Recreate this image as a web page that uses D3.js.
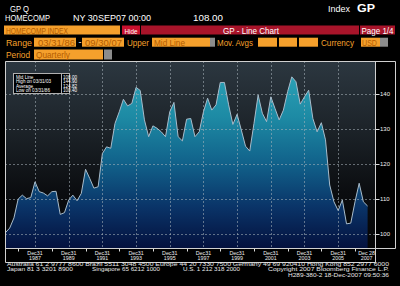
<!DOCTYPE html>
<html>
<head>
<meta charset="utf-8">
<script src="https://cdn.jsdelivr.net/npm/d3@7"></script>
<style>
  html, body { margin: 0; padding: 0; background: #000; }
  svg { display: block; }
  text { font-family: "Liberation Sans", Arial, sans-serif; }
</style>
</head>
<body>
<div id="chart"></div>
<script>
// Chart size
const width = 400;
const height = 286;

// Quarterly index values, 03/31/86 .. 09/30/07
const startDate = new Date(1986, 2, 31);
const endDate = new Date(2007, 8, 30);
const values = [
  100.4, 101.7, 104.6, 110.0, 111.1, 110.1, 110.4, 114.9, 112.1, 111.7,
  110.9, 112.1, 112.2, 105.6, 106.1, 109.7, 111.1, 109.5, 111.6, 118.5,
  115.9, 113.1, 113.5, 123.0, 124.9, 124.5, 131.6, 134.9, 138.5, 136.6,
  137.3, 141.9, 141.0, 132.6, 127.8, 130.9, 130.2, 129.2, 127.8, 134.9,
  137.6, 127.8, 126.6, 132.8, 133.0, 127.8, 129.2, 134.9, 138.8, 135.4,
  136.9, 143.3, 143.3, 136.9, 131.3, 134.2, 129.7, 125.1, 123.7, 131.6,
  139.7, 134.5, 132.1, 139.2, 135.9, 132.6, 135.4, 140.7, 144.9, 143.5,
  137.1, 139.2, 141.1, 133.0, 129.2, 131.8, 126.9, 114.0, 109.2, 106.7,
  109.7, 102.9, 103.1, 109.2, 114.5, 109.2, 108.0
];

// Axis labels
const yTicks = [100, 110, 120, 130, 140];
const labelYears = [1987, 1989, 1991, 1993, 1995, 1997, 1999, 2001, 2003, 2005];
const minorYears = [1986, 1988, 1990, 1992, 1994, 1996, 1998, 2000, 2002, 2004, 2006];

// Legend rows
const legendLabels = ["Mid Line", "High on 03/31/03", "Average", "Low on 03/31/86"];
const legendValues = ["108.00", "144.90", "124.82", "100.40"];

// Footer lines
const footer1 = "Australia 61 2 9777 8600 Brazil 5511 3048 4500 Europe 44 20 7330 7500 Germany 49 69 920410 Hong Kong 852 2977 6000";

// Build quarter-end dates for the series
const dates = values.map((v, i) => d3.timeDay.offset(d3.timeMonth.offset(new Date(1986, 3, 1), i * 3), -1));
const data = values.map((v, i) => ({ date: dates[i], value: v }));

const svg = d3.select("#chart").append("svg")
    .attr("width", width)
    .attr("height", height);

const defs = svg.append("defs");

// Plot box
const plot = { left: 5, right: 375, top: 61, bottom: 248 };

const x = d3.scaleTime()
    .domain([startDate, endDate])
    .range([5.5, 367.6]);

const y = d3.scaleLinear()
    .domain([100, 140])
    .range([234, 94]);

// ---------- Header ----------
const amber = "#f5a02c";
const boxText = "#b35c00";

function txt(str, tx, ty, opts) {
    const t = svg.append("text")
        .attr("x", tx).attr("y", ty)
        .attr("font-size", opts.size || 9)
        .attr("fill", opts.fill || "#fff")
        .text(str);
    if (opts.bold) t.attr("font-weight", "bold");
    if (opts.len) t.attr("textLength", opts.len).attr("lengthAdjust", "spacingAndGlyphs");
    if (opts.anchor) t.attr("text-anchor", opts.anchor);
    return t;
}

function box(bx, by, bw, bh, fill) {
    svg.append("rect").attr("x", bx).attr("y", by).attr("width", bw).attr("height", bh).attr("fill", fill);
}

txt("GP Q", 10, 11.5, { size: 9, len: 19 });
txt("HOMECOMP", 5, 21, { size: 9, len: 45 });
txt("NY 30SEP07 00:00", 73, 21, { size: 9, len: 78 });
txt("108.00", 193, 21, { size: 9, len: 30 });
txt("Index", 328, 12, { size: 9, len: 22 });
txt("GP", 357, 12, { size: 10, bold: true, len: 18 });

// row 3
box(4, 25.5, 116, 9, amber);
txt("HOMECOMP INDEX", 6, 33.5, { size: 8.5, fill: boxText, len: 62 });
box(122, 25.5, 18, 9, "#c8102e");
txt("Hide", 124.5, 33.5, { size: 8, len: 13 });
box(141, 25.5, 218, 9, "#a8142a");
txt("GP - Line Chart", 223, 33.5, { size: 8.5, len: 56 });
box(360, 25.5, 35, 9, "#a8142a");
txt("Page 1/4", 361.5, 33.5, { size: 8.5, len: 32 });

// row 4
txt("Range", 6, 45.5, { size: 9, fill: amber, len: 26 });
box(34, 37.7, 42, 9, amber);
txt("03/31/86", 38, 45.5, { size: 8.5, fill: boxText, len: 37 });
txt("-", 78.5, 45, { size: 9, fill: "#fff" });
box(82, 37.7, 42, 9, amber);
txt("09/30/07", 85, 45.5, { size: 8.5, fill: boxText, len: 37 });
txt("Upper", 127, 45.5, { size: 9, fill: amber, len: 22 });
box(152, 37.7, 58, 9, amber);
box(210, 37.7, 5, 9, "#8c8c8c");
txt("Mid Line", 154, 45.5, { size: 8.5, fill: boxText, len: 31 });
txt("Mov. Avgs", 217, 45.5, { size: 9, fill: amber, len: 36 });
box(258, 37.7, 19, 9, amber);
box(279, 37.7, 18, 9, amber);
box(299, 37.7, 19, 9, amber);
txt("Currency", 321, 45.5, { size: 9, fill: amber, len: 33 });
box(361, 37.7, 19, 9, amber);
box(380, 37.7, 8, 9, "#8c8c8c");
txt("USD", 362, 45.5, { size: 8.5, fill: boxText, len: 15 });

// row 5
txt("Period", 6, 58, { size: 9, fill: amber, len: 24 });
box(34, 49.5, 69, 10, amber);
box(104, 49.5, 8, 10, "#8c8c8c");
txt("Quarterly", 36, 57.8, { size: 8.5, fill: boxText, len: 34 });

// ---------- Plot ----------
const bg = defs.append("linearGradient").attr("id", "bg")
    .attr("gradientUnits", "userSpaceOnUse")
    .attr("x1", 0).attr("y1", plot.top).attr("x2", 0).attr("y2", plot.bottom);
bg.append("stop").attr("offset", "0%").attr("stop-color", "#2c3740");
bg.append("stop").attr("offset", "35%").attr("stop-color", "#1d242a");
bg.append("stop").attr("offset", "70%").attr("stop-color", "#0b0d10");
bg.append("stop").attr("offset", "100%").attr("stop-color", "#050505");

const fillGrad = defs.append("linearGradient").attr("id", "areaFill")
    .attr("gradientUnits", "userSpaceOnUse")
    .attr("x1", 0).attr("y1", plot.top).attr("x2", 0).attr("y2", plot.bottom);
fillGrad.append("stop").attr("offset", "0%").attr("stop-color", "#2fa8bc");
fillGrad.append("stop").attr("offset", "30%").attr("stop-color", "#1d8aa4");
fillGrad.append("stop").attr("offset", "55%").attr("stop-color", "#11618a");
fillGrad.append("stop").attr("offset", "78%").attr("stop-color", "#0a3468");
fillGrad.append("stop").attr("offset", "100%").attr("stop-color", "#04113e");

svg.append("rect")
    .attr("x", plot.left).attr("y", plot.top)
    .attr("width", plot.right - plot.left).attr("height", plot.bottom - plot.top)
    .attr("fill", "url(#bg)");

const area = d3.area()
    .x(d => x(d.date))
    .y0(plot.bottom)
    .y1(d => y(d.value));

svg.append("path")
    .datum(data)
    .attr("d", area)
    .attr("fill", "url(#areaFill)");

// Grid lines
const gridColor = "#aab4bc";
svg.append("g")
    .selectAll("line")
    .data(yTicks)
    .join("line")
    .attr("x1", plot.left).attr("x2", plot.right)
    .attr("y1", d => y(d) + 0.5).attr("y2", d => y(d) + 0.5)
    .attr("stroke", gridColor).attr("stroke-opacity", 0.55)
    .attr("stroke-dasharray", "2,2");

svg.append("g")
    .selectAll("line")
    .data(labelYears)
    .join("line")
    .attr("x1", d => Math.round(x(new Date(d, 11, 31))) + 0.5)
    .attr("x2", d => Math.round(x(new Date(d, 11, 31))) + 0.5)
    .attr("y1", plot.top).attr("y2", plot.bottom)
    .attr("stroke", gridColor).attr("stroke-opacity", 0.55)
    .attr("stroke-dasharray", "2,2");

// Data line
const line = d3.line()
    .x(d => x(d.date))
    .y(d => y(d.value));

svg.append("path")
    .datum(data)
    .attr("d", line)
    .attr("fill", "none")
    .attr("stroke", "#a8bccb")
    .attr("stroke-width", 1);

// Legend box
const lg = svg.append("g");
lg.append("rect").attr("x", 13.5).attr("y", 73.5).attr("width", 56).attr("height", 20)
    .attr("fill", "#000").attr("stroke", "#b0b0b0").attr("stroke-width", 1);
lg.append("line").attr("x1", 61.5).attr("x2", 61.5).attr("y1", 74).attr("y2", 93)
    .attr("stroke", "#b0b0b0");
lg.selectAll("text.lab")
    .data(legendLabels)
    .join("text")
    .attr("class", "lab")
    .attr("x", 16).attr("y", (d, i) => 78.5 + i * 4.6)
    .attr("font-size", 4.6).attr("fill", "#fff")
    .text(d => d);
lg.selectAll("text.val")
    .data(legendValues)
    .join("text")
    .attr("class", "val")
    .attr("x", 63).attr("y", (d, i) => 78.5 + i * 4.6)
    .attr("font-size", 4.6).attr("fill", "#fff")
    .text(d => d);

// ---------- Frame ----------
const frameColor = "#d0d0d0";
const frame = svg.append("g").attr("stroke", frameColor).attr("stroke-width", 1).attr("fill", "none");
frame.append("path").attr("d",
    `M5.5,61.5 H395.5 V248.5 H375.5 M5.5,61.5 V262.5 H375.5 V61.5 M5.5,248.5 H375.5`);

// Right y-axis labels
const yAxis = svg.append("g");
yAxis.selectAll("line")
    .data(yTicks)
    .join("line")
    .attr("x1", 376).attr("x2", 379.5)
    .attr("y1", d => y(d) + 0.5).attr("y2", d => y(d) + 0.5)
    .attr("stroke", "#ddd");
yAxis.selectAll("text")
    .data(yTicks)
    .join("text")
    .attr("x", 380).attr("y", d => y(d) + 2.2)
    .attr("font-size", 6).attr("fill", "#eee")
    .text(d => d);

// Bottom x-axis labels
const xAxis = svg.append("g");
xAxis.selectAll("text.dec")
    .data(labelYears)
    .join("text")
    .attr("class", "dec")
    .attr("x", d => x(new Date(d, 11, 31)))
    .attr("y", 254.5)
    .attr("text-anchor", "middle")
    .attr("font-size", 5.3).attr("fill", "#eee")
    .text("Dec31");
xAxis.selectAll("text.yr")
    .data(labelYears)
    .join("text")
    .attr("class", "yr")
    .attr("x", d => x(new Date(d, 11, 31)))
    .attr("y", 260.3)
    .attr("text-anchor", "middle")
    .attr("font-size", 5.3).attr("fill", "#eee")
    .text(d => d);
xAxis.append("text").attr("x", x(endDate) - 1).attr("y", 254.5)
    .attr("text-anchor", "middle").attr("font-size", 5.3).attr("fill", "#eee").text("Dec 28");
xAxis.append("text").attr("x", x(endDate) - 1).attr("y", 260.3)
    .attr("text-anchor", "middle").attr("font-size", 5.3).attr("fill", "#eee").text("2007");
xAxis.selectAll("line")
    .data(minorYears)
    .join("line")
    .attr("x1", d => Math.round(x(new Date(d, 11, 31))) + 0.5)
    .attr("x2", d => Math.round(x(new Date(d, 11, 31))) + 0.5)
    .attr("y1", 249).attr("y2", 251.5)
    .attr("stroke", "#ddd");

// ---------- Footer ----------
txt(footer1, 7, 265.8, { size: 5.3, fill: "#e8e8e8", len: 382 });
txt("Japan 81 3 3201 8900", 7, 270.9, { size: 5.3, fill: "#e8e8e8", len: 66 });
txt("Singapore 65 6212 1000", 92, 270.9, { size: 5.3, fill: "#e8e8e8", len: 68 });
txt("U.S. 1 212 318 2000", 183, 270.9, { size: 5.3, fill: "#e8e8e8", len: 57 });
txt("Copyright 2007 Bloomberg Finance L.P.", 268, 270.9, { size: 5.3, fill: "#e8e8e8", len: 121 });
txt("H289-380-2 18-Dec-2007 09:50:36", 288, 277.2, { size: 5.3, fill: "#e8e8e8", len: 101 });
</script>
</body>
</html>
